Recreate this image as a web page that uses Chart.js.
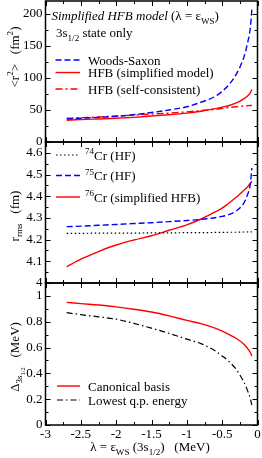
<!DOCTYPE html>
<html><head><meta charset="utf-8">
<script src="https://cdn.jsdelivr.net/npm/chart.js@4.4.0/dist/chart.umd.min.js"></script>
<style>
html,body{margin:0;padding:0;background:#fff;}
#wrap{position:relative;width:262px;height:458px;overflow:hidden;}
canvas{position:absolute;left:0;top:0;}
</style></head><body><div id="wrap">
<canvas id="c1" width="262" height="458"></canvas>
<canvas id="c2" width="262" height="458"></canvas>
<canvas id="c3" width="262" height="458"></canvas>
</div>
<script>
// ---- data ----
const lambda = [-2.7, -2.5, -2.25, -2.0, -1.75, -1.5, -1.25, -1.0, -0.8, -0.6, -0.5, -0.4, -0.3, -0.2, -0.15, -0.1, -0.08];
const r2WoodsSaxon        = [36, 37, 38.5, 40, 42.5, 46, 50, 55, 62, 71, 79, 90, 106, 130, 150, 180, 207];
const r2HfbSimplified     = [34, 35, 36, 37, 38.5, 40.5, 42.5, 45, 48, 52, 54.5, 57, 61, 67, 71, 77, 82];
const r2HfbSelfConsistent = [37, 38, 39, 40.5, 42, 43.5, 45, 47, 49, 51, 52.5, 54, 55, 56, 56.5, 57, 57];
const rms74Cr = [4.229, 4.229, 4.23, 4.23, 4.23, 4.231, 4.231, 4.232, 4.232, 4.233, 4.233, 4.234, 4.234, 4.235, 4.235, 4.236, 4.236];
const rms75Cr = [4.26, 4.262, 4.266, 4.27, 4.274, 4.278, 4.283, 4.288, 4.293, 4.301, 4.307, 4.316, 4.332, 4.365, 4.40, 4.46, 4.53];
const rms76Cr = [4.075, 4.11, 4.145, 4.175, 4.198, 4.218, 4.243, 4.268, 4.295, 4.328, 4.345, 4.37, 4.395, 4.425, 4.44, 4.46, 4.47];
const gapCanonical = [0.95, 0.94, 0.93, 0.915, 0.897, 0.875, 0.845, 0.81, 0.785, 0.75, 0.727, 0.70, 0.67, 0.63, 0.60, 0.56, 0.535];
const gapLowestQp  = [0.87, 0.855, 0.838, 0.82, 0.787, 0.75, 0.71, 0.665, 0.63, 0.575, 0.535, 0.49, 0.43, 0.34, 0.28, 0.2, 0.155];
const xTicks  = [-3, -2.5, -2, -1.5, -1, -0.5, 0];
const yTicks1 = [0, 50, 100, 150, 200];
const yTicks2 = [4, 4.1, 4.2, 4.3, 4.4, 4.5, 4.6];
const yTicks3 = [0, 0.2, 0.4, 0.6, 0.8, 1];

// ---- helpers ----
const FAM = '"Liberation Serif","DejaVu Serif",serif';
const FS = 13;
const fmt = v => String(Math.round(v * 100) / 100);
const pts = arr => lambda.map((x, i) => ({x, y: arr[i]}));

function parseRich(s) {
  const out = []; let i = 0;
  function rec(shift, scale) {
    let buf = '';
    const flush = () => { if (buf) { out.push({t: buf, shift, scale}); buf = ''; } };
    while (i < s.length) {
      const c = s[i];
      if ((c === '^' || c === '_') && s[i + 1] === '{') {
        flush(); i += 2;
        rec(shift + (c === '^' ? -0.42 * scale : 0.3 * scale), scale * 0.7);
      } else if (c === '}') { flush(); i++; return; }
      else { buf += c; i++; }
    }
    flush();
  }
  rec(0, 1);
  return out;
}
function drawRich(ctx, str, x, y, size, opts) {
  opts = opts || {};
  const style = opts.italic ? 'italic ' : '';
  const segs = parseRich(str);
  let w = 0;
  for (const g of segs) { ctx.font = style + (size * g.scale) + 'px ' + FAM; w += ctx.measureText(g.t).width; }
  let cx = opts.align === 'center' ? x - w / 2 : x;
  ctx.textAlign = 'left'; ctx.textBaseline = 'alphabetic';
  ctx.fillStyle = opts.color || '#000';
  for (const g of segs) {
    ctx.font = style + (size * g.scale) + 'px ' + FAM;
    ctx.fillText(g.t, cx, y + g.shift * size);
    cx += ctx.measureText(g.t).width;
  }
  return cx;
}

// frame + inward ticks on all four sides
const framePlugin = {
  id: 'frame',
  afterDatasetsDraw(chart, args, o) {
    const {ctx, chartArea: a, scales: {x, y}} = chart;
    ctx.save();
    ctx.strokeStyle = '#000';
    ctx.lineWidth = 1;
    ctx.beginPath();
    const xs = xTicks[1] - xTicks[0];
    for (let v = x.min; v <= x.max + 1e-9; v += xs / 2) {
      const major = xTicks.some(t => Math.abs(t - v) < 1e-6);
      const len = major ? 5 : 3;
      const px = Math.round(x.getPixelForValue(v)) + 0.5;
      ctx.moveTo(px, a.top); ctx.lineTo(px, a.top + len);
      ctx.moveTo(px, a.bottom); ctx.lineTo(px, a.bottom - len);
    }
    const yt = o.yTicks, ys = yt[1] - yt[0];
    for (let v = yt[0]; v <= y.max + 1e-9; v += ys / 2) {
      const major = yt.some(t => Math.abs(t - v) < 1e-6);
      const len = major ? 5 : 3;
      const py = Math.round(y.getPixelForValue(v)) + 0.5;
      ctx.moveTo(a.left, py); ctx.lineTo(a.left + len, py);
      ctx.moveTo(a.right, py); ctx.lineTo(a.right - len, py);
    }
    ctx.stroke();
    ctx.lineWidth = 1.5;
    ctx.strokeRect(a.left, a.top, a.right - a.left, a.bottom - a.top);
    ctx.restore();
  }
};

// in-plot legend and texts
const annoPlugin = {
  id: 'anno',
  afterDraw(chart, args, o) {
    const ctx = chart.ctx;
    ctx.save();
    chart.data.datasets.forEach((ds, i) => {
      const yy = o.rows[i];
      ctx.strokeStyle = ds.borderColor;
      ctx.lineWidth = ds.borderWidth;
      ctx.setLineDash(ds.borderDash || []);
      ctx.beginPath(); ctx.moveTo(o.x0, yy); ctx.lineTo(o.x1, yy); ctx.stroke();
      ctx.setLineDash([]);
      drawRich(ctx, ds.label, o.tx, yy + 4.5, FS);
    });
    let lastEnd = 0;
    (o.texts || []).forEach(t => {
      lastEnd = drawRich(ctx, t.s, t.follow ? lastEnd : t.x, t.y, t.size || FS, t);
    });
    if (o.ytitle) {
      ctx.translate(o.ytitle.x, o.ytitle.y);
      ctx.rotate(-Math.PI / 2);
      drawRich(ctx, o.ytitle.s, 0, 0, FS, {align: 'center'});
    }
    ctx.restore();
  }
};

function makeChart(id, datasets, yMin, yMax, yTicks, padTop, padBottom, showX, anno) {
  return new Chart(document.getElementById(id), {
    type: 'line',
    data: {datasets},
    plugins: [framePlugin, annoPlugin],
    options: {
      responsive: false, animation: false, devicePixelRatio: 1,
      layout: {padding: {left: 0, right: 4.5, top: padTop, bottom: padBottom}},
      elements: {point: {radius: 0}, line: {borderWidth: 1.4, cubicInterpolationMode: 'monotone'}},
      plugins: {legend: {display: false}, tooltip: {enabled: false}, frame: {yTicks}, anno},
      scales: {
        x: {
          type: 'linear', min: -3, max: 0, display: showX,
          grid: {display: false, drawTicks: false}, border: {display: false},
          ticks: {padding: 2, color: '#000', font: {family: FAM, size: FS}, autoSkip: false, maxRotation: 0, callback: fmt},
          afterBuildTicks: s => { s.ticks = xTicks.map(v => ({value: v})); },
          afterFit: s => { if (showX) s.height = 20; s.paddingLeft = 0; s.paddingRight = 0; }
        },
        y: {
          type: 'linear', min: yMin, max: yMax, position: 'left',
          grid: {display: false, drawTicks: false}, border: {display: false},
          ticks: {padding: 3, color: '#000', font: {family: FAM, size: FS}, autoSkip: false, callback: fmt},
          afterBuildTicks: s => { s.ticks = yTicks.map(v => ({value: v})); },
          afterFit: s => { s.width = 45.5; s.paddingTop = 0; s.paddingBottom = 0; }
        }
      }
    }
  });
}

makeChart('c1', [
  {label: 'Woods-Saxon', data: pts(r2WoodsSaxon), borderColor: '#0000ff', borderWidth: 1.4, borderDash: [6, 3]},
  {label: 'HFB (simplified model)', data: pts(r2HfbSimplified), borderColor: '#ff0000', borderWidth: 1.4},
  {label: 'HFB (self-consistent)', data: pts(r2HfbSelfConsistent), borderColor: '#ff0000', borderWidth: 1.4, borderDash: [7, 3, 2, 3]}
], 0, 220, yTicks1, 1, 458 - 142, false, {
  x0: 55.5, x1: 80, tx: 88, rows: [60, 72.5, 89],
  texts: [
    {s: 'Simplified HFB model ', x: 51.5, y: 20, italic: true},
    {s: '(λ = ε_{WS})', y: 20, follow: true},
    {s: '3s_{1/2} state only', x: 56, y: 37}
  ],
  ytitle: {s: '<r^{2}>   (fm^{2})', x: 18.5, y: 57}
});

makeChart('c2', [
  {label: '^{74}Cr (HF)', data: pts(rms74Cr), borderColor: '#000', borderWidth: 1.2, borderDash: [1.5, 2.5]},
  {label: '^{75}Cr (HF)', data: pts(rms75Cr), borderColor: '#0000ff', borderWidth: 1.4, borderDash: [6, 3]},
  {label: '^{76}Cr (simplified HFB)', data: pts(rms76Cr), borderColor: '#ff0000', borderWidth: 1.4}
], 4.0, 4.65, yTicks2, 142, 458 - 283, false, {
  x0: 56, x1: 80, tx: 85, rows: [155, 175.5, 197],
  ytitle: {s: 'r_{rms}   (fm)', x: 18.5, y: 216}
});

makeChart('c3', [
  {label: 'Canonical basis', data: pts(gapCanonical), borderColor: '#ff0000', borderWidth: 1.4},
  {label: 'Lowest q.p. energy', data: pts(gapLowestQp), borderColor: '#000', borderWidth: 1.2, borderDash: [6, 3, 1.5, 3]}
], 0, 1.1, yTicks3, 283, 458 - 425 - 20, true, {
  x0: 57, x1: 80, tx: 88, rows: [386, 400],
  texts: [
    {s: 'λ = ε_{WS} (3s_{1/2})   (MeV)', x: 150, y: 451, align: 'center'}
  ],
  ytitle: {s: 'Δ_{3s_{1/2}}   (MeV)', x: 18.5, y: 357}
});
</script>
</body></html>
